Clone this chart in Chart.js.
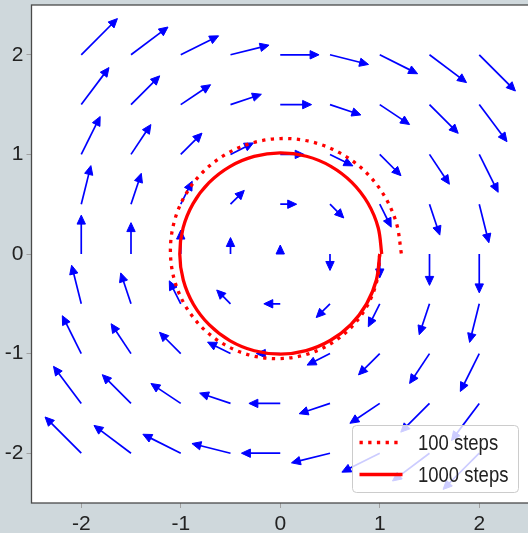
<!doctype html>
<html lang="en">
  <head>
    <meta charset="utf-8" />
    <title>Euler steps</title>
    <style>
      html,
      body {
        margin: 0;
        padding: 0;
        background: #cfd8dc;
        overflow: hidden;
      }
    </style>
  </head>
  <body>
    <canvas id="myChart" width="530" height="533"></canvas>

    <script src="https://cdn.jsdelivr.net/npm/chart.js/dist/chart.umd.min.js"></script>
    <script>
      // grid of arrow tails
      const gridX = [-2, -1.5, -1, -0.5, 0, 0.5, 1, 1.5, 2];
      const gridY = [-2, -1.5, -1, -0.5, 0, 0.5, 1, 1.5, 2];

      // arrow components, one row per gridY value
      const arrowU = [
        [-2, -2, -2, -2, -2, -2, -2, -2, -2],
        [-1.5, -1.5, -1.5, -1.5, -1.5, -1.5, -1.5, -1.5, -1.5],
        [-1, -1, -1, -1, -1, -1, -1, -1, -1],
        [-0.5, -0.5, -0.5, -0.5, -0.5, -0.5, -0.5, -0.5, -0.5],
        [0, 0, 0, 0, 0, 0, 0, 0, 0],
        [0.5, 0.5, 0.5, 0.5, 0.5, 0.5, 0.5, 0.5, 0.5],
        [1, 1, 1, 1, 1, 1, 1, 1, 1],
        [1.5, 1.5, 1.5, 1.5, 1.5, 1.5, 1.5, 1.5, 1.5],
        [2, 2, 2, 2, 2, 2, 2, 2, 2],
      ];
      const arrowV = [
        [2, 1.5, 1, 0.5, 0, -0.5, -1, -1.5, -2],
        [2, 1.5, 1, 0.5, 0, -0.5, -1, -1.5, -2],
        [2, 1.5, 1, 0.5, 0, -0.5, -1, -1.5, -2],
        [2, 1.5, 1, 0.5, 0, -0.5, -1, -1.5, -2],
        [2, 1.5, 1, 0.5, 0, -0.5, -1, -1.5, -2],
        [2, 1.5, 1, 0.5, 0, -0.5, -1, -1.5, -2],
        [2, 1.5, 1, 0.5, 0, -0.5, -1, -1.5, -2],
        [2, 1.5, 1, 0.5, 0, -0.5, -1, -1.5, -2],
        [2, 1.5, 1, 0.5, 0, -0.5, -1, -1.5, -2],
      ];

      // trajectories
      const steps100X = [
        1.0, 0.9739, 0.8804, 0.7247, 0.5167, 0.2697, 0.0, -0.2741, -0.5339,
        -0.7613, -0.9401, -1.0572, -1.1035, -1.0747, -0.9715, -0.7998, -0.5702,
        -0.2976, 0.0, 0.3025, 0.5892, 0.8402, 1.0375, 1.1667, 1.2178,
      ];
      const steps100Y = [
        0.0, -0.261, -0.5083, -0.7247, -0.8949, -1.0064, -1.0505, -1.0231,
        -0.9248, -0.7613, -0.5428, -0.2833, 0.0, 0.288, 0.5609, 0.7998, 0.9876,
        1.1106, 1.1593, 1.129, 1.0206, 0.8402, 0.599, 0.3126, 0.0,
      ];
      const steps1000X = [
        1.0, 0.9667, 0.8674, 0.7089, 0.5017, 0.2599, 0.0, -0.2603, -0.5033,
        -0.7123, -0.8732, -0.9747, -1.0099, -0.9764, -0.8761, -0.7159, -0.5067,
        -0.2625, 0.0, 0.2629, 0.5083, 0.7195, 0.8819, 0.9844, 1.0199,
      ];
      const steps1000Y = [
        0.0, -0.259, -0.5008, -0.7089, -0.8689, -0.9699, -1.0049, -0.9715,
        -0.8717, -0.7123, -0.5042, -0.2612, 0.0, 0.2616, 0.5058, 0.7159, 0.8775,
        0.9795, 1.0149, 0.9812, 0.8804, 0.7195, 0.5092, 0.2638, 0.0,
      ];

      const tickValues = [-2, -1, 0, 1, 2];
      const seriesLabels = ["100 steps", "1000 steps"];

      const fontFamily = "'Liberation Sans', Arial, sans-serif";
      const arrowScale = 0.15;
      const headLength = 0.09;
      const headHalfWidth = 0.042;

      const toPoints = (xs, ys) => xs.map((x, i) => ({ x: x, y: ys[i] }));

      const background = {
        id: "background",
        beforeDraw(chart) {
          const {
            ctx,
            chartArea: { left, top, right, bottom },
          } = chart;
          ctx.save();
          ctx.fillStyle = "#cfd8dc";
          ctx.fillRect(0, 0, chart.width, chart.height);
          ctx.fillStyle = "#ffffff";
          ctx.fillRect(left, top, right - left, bottom - top);
          ctx.restore();
        },
      };

      // arrows of the vector field, drawn under the curves
      const quiver = {
        id: "quiver",
        beforeDatasetsDraw(chart) {
          const {
            ctx,
            chartArea: { left, top, right, bottom },
            scales: { x, y },
          } = chart;
          ctx.save();
          ctx.beginPath();
          ctx.rect(left, top, right - left, bottom - top);
          ctx.clip();
          ctx.strokeStyle = "#0000ff";
          ctx.fillStyle = "#0000ff";
          ctx.lineJoin = "miter";

          gridY.forEach((gy, i) => {
            gridX.forEach((gx, j) => {
              const u = arrowU[i][j];
              const v = arrowV[i][j];
              const len = Math.hypot(u, v);
              const dx = len ? u / len : 0;
              const dy = len ? v / len : 1;
              const ex = gx + arrowScale * u;
              const ey = gy + arrowScale * v;

              // shaft
              if (len) {
                ctx.lineWidth = 1.7;
                ctx.beginPath();
                ctx.moveTo(x.getPixelForValue(gx), y.getPixelForValue(gy));
                ctx.lineTo(
                  x.getPixelForValue(ex + 0.02 * dx),
                  y.getPixelForValue(ey + 0.02 * dy)
                );
                ctx.stroke();
              }

              // head
              ctx.lineWidth = 1;
              ctx.beginPath();
              ctx.moveTo(
                x.getPixelForValue(ex + headLength * dx),
                y.getPixelForValue(ey + headLength * dy)
              );
              ctx.lineTo(
                x.getPixelForValue(ex - headHalfWidth * dy),
                y.getPixelForValue(ey + headHalfWidth * dx)
              );
              ctx.lineTo(
                x.getPixelForValue(ex + headHalfWidth * dy),
                y.getPixelForValue(ey - headHalfWidth * dx)
              );
              ctx.closePath();
              ctx.fill();
              ctx.stroke();
            });
          });
          ctx.restore();
        },
      };

      const frame = {
        id: "frame",
        afterDatasetsDraw(chart) {
          const {
            ctx,
            chartArea: { left, top, right, bottom },
          } = chart;
          ctx.save();
          ctx.strokeStyle = "#4a4a4a";
          ctx.lineWidth = 1.3;
          ctx.strokeRect(left, top, right - left, bottom - top);
          ctx.restore();
        },
      };

      // matplotlib style legend, lower right, semi transparent
      const legendBox = {
        id: "legendBox",
        afterDraw(chart) {
          const { ctx, chartArea } = chart;
          const w = 166;
          const h = 67;
          const bx = chartArea.right - 10.5 - w;
          const by = chartArea.bottom - 10.5 - h;
          ctx.save();
          ctx.beginPath();
          ctx.roundRect(bx, by, w, h, 4);
          ctx.fillStyle = "rgba(255, 255, 255, 0.8)";
          ctx.fill();
          ctx.strokeStyle = "#cccccc";
          ctx.lineWidth = 1;
          ctx.stroke();

          chart.data.datasets.forEach((ds, i) => {
            const rowY = by + 17 + i * 32;
            ctx.beginPath();
            ctx.strokeStyle = ds.borderColor;
            ctx.lineWidth = ds.borderWidth;
            ctx.setLineDash(ds.borderDash || []);
            ctx.lineCap = "butt";
            ctx.moveTo(bx + 7, rowY);
            ctx.lineTo(bx + 50, rowY);
            ctx.stroke();
            ctx.setLineDash([]);

            // the reference font is a narrow one, so squeeze the text a bit
            ctx.save();
            ctx.translate(bx + 65.5, rowY + 1);
            ctx.scale(0.84, 1);
            ctx.fillStyle = "#222222";
            ctx.font = "22px " + fontFamily;
            ctx.textBaseline = "middle";
            ctx.textAlign = "left";
            ctx.fillText(ds.label, 0, 0);
            ctx.restore();
          });
          ctx.restore();
        },
      };

      const axisTicks = {
        font: { family: fontFamily, size: 21 },
        color: "#222222",
      };

      const config = {
        type: "scatter",
        data: {
          datasets: [
            {
              label: seriesLabels[0],
              data: toPoints(steps100X, steps100Y),
              showLine: true,
              borderColor: "#ff0000",
              borderWidth: 3.3,
              borderDash: [3.3, 5.4],
              borderCapStyle: "butt",
              pointRadius: 0,
              tension: 0.34,
            },
            {
              label: seriesLabels[1],
              data: toPoints(steps1000X, steps1000Y),
              showLine: true,
              borderColor: "#ff0000",
              borderWidth: 3.3,
              pointRadius: 0,
              tension: 0.34,
            },
          ],
        },
        options: {
          responsive: false,
          animation: false,
          layout: { padding: { top: 5, right: 1, left: 0, bottom: 0 } },
          scales: {
            x: {
              type: "linear",
              min: -2.5,
              max: 2.5,
              afterBuildTicks: (scale) => {
                scale.ticks = tickValues.map((v) => ({ value: v }));
              },
              afterFit: (scale) => {
                scale.height = 30;
                scale.paddingLeft = 0;
                scale.paddingRight = 0;
              },
              grid: {
                drawOnChartArea: false,
                tickLength: 5,
                color: "#a0a0a0",
              },
              border: { display: false },
              ticks: { ...axisTicks, padding: 4 },
            },
            y: {
              type: "linear",
              min: -2.5,
              max: 2.5,
              afterBuildTicks: (scale) => {
                scale.ticks = tickValues.map((v) => ({ value: v }));
              },
              afterFit: (scale) => {
                scale.width = 31.5;
                scale.paddingTop = 0;
                scale.paddingBottom = 0;
              },
              grid: {
                drawOnChartArea: false,
                tickLength: 5,
                color: "#a0a0a0",
              },
              border: { display: false },
              ticks: { ...axisTicks, padding: 3 },
            },
          },
          plugins: {
            legend: { display: false },
            tooltip: { enabled: false },
          },
        },
        plugins: [background, quiver, frame, legendBox],
      };

      const myChart = new Chart(document.getElementById("myChart"), config);
    </script>
  </body>
</html>
